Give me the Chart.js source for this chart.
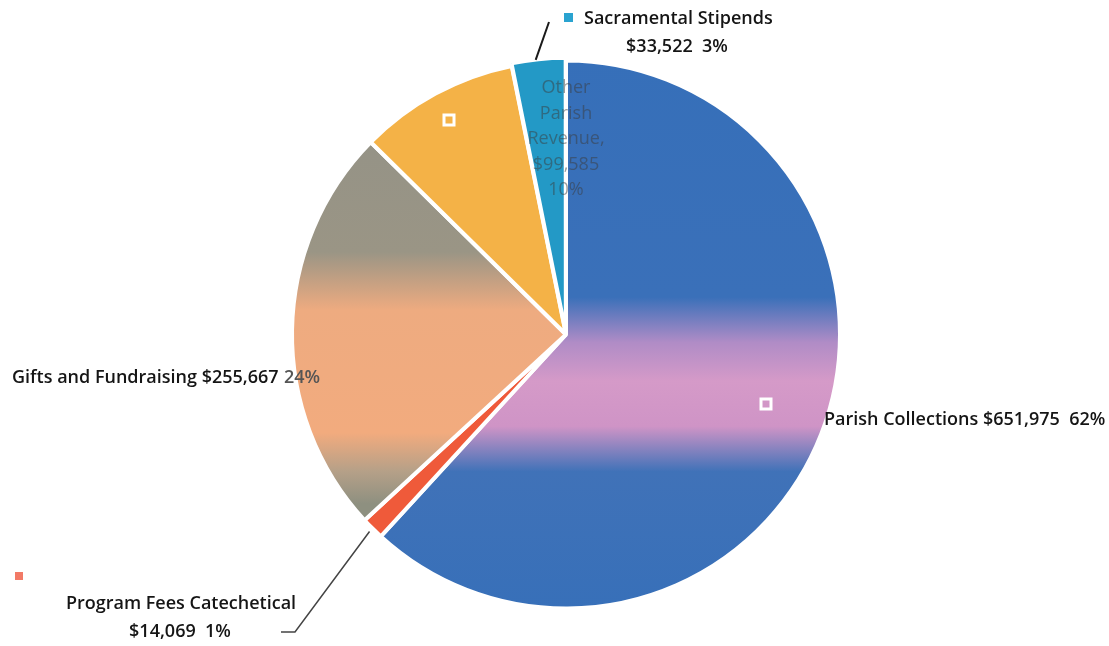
<!DOCTYPE html>
<html>
<head>
<meta charset="utf-8">
<script src="https://cdn.jsdelivr.net/npm/chart.js@4"></script>
<style>
  html, body { margin: 0; padding: 0; background: #fff; }
  #wrap { width: 1109px; height: 646px; position: relative; }
</style>
</head>
<body>
<div id="wrap"><canvas id="pie"></canvas></div>
<script>
// data
const categories = ["Parish Collections", "Program Fees Catechetical", "Gifts and Fundraising", "Other Parish Revenue", "Sacramental Stipends"];
const amounts = [651975, 14069, 255667, 99585, 33522];
const percents = ["62%", "1%", "24%", "10%", "3%"];
const amountLabels = ["$651,975", "$14,069", "$255,667", "$99,585", "$33,522"];

const FONT = '"Open Sans", sans-serif';

// scanned look: the blue and grey slices have colour bands on them
function sliceColor(c) {
  const chart = c.chart;
  const area = chart.chartArea;
  const solid = ["#356fb9", "#ef5a3a", "#a9a090", "#f4b247", "#2399c6"];
  if (!area) return solid[c.dataIndex];
  const g = chart.ctx;
  if (c.dataIndex === 0) {
    const gr = g.createLinearGradient(0, 0, 0, 646);
    gr.addColorStop(0, "#356fb9");
    gr.addColorStop(0.46, "#3a70b9");
    gr.addColorStop(0.53, "#b08cc6");
    gr.addColorStop(0.59, "#d59ac8");
    gr.addColorStop(0.66, "#cf94c6");
    gr.addColorStop(0.73, "#4072b8");
    gr.addColorStop(1, "#356fb9");
    return gr;
  }
  if (c.dataIndex === 2) {
    const gr = g.createLinearGradient(0, 0, 0, 646);
    gr.addColorStop(0, "#8f9088");
    gr.addColorStop(0.39, "#9a9585");
    gr.addColorStop(0.48, "#eeab80");
    gr.addColorStop(0.67, "#f2ab7e");
    gr.addColorStop(0.73, "#b5a088");
    gr.addColorStop(0.78, "#8e9080");
    gr.addColorStop(1, "#8e9080");
    return gr;
  }
  return solid[c.dataIndex];
}

function arcPoint(chart, i, k) {
  const a = chart.getDatasetMeta(0).data[i];
  const mid = (a.startAngle + a.endAngle) / 2;
  return { x: a.x + Math.cos(mid) * a.outerRadius * k, y: a.y + Math.sin(mid) * a.outerRadius * k };
}

const labelPlugin = {
  id: "labels",
  afterDatasetsDraw(chart) {
    const g = chart.ctx;
    g.save();
    g.textBaseline = "middle";
    g.fillStyle = "#151515";
    g.font = "600 18px " + FONT;

    // Sacramental Stipends
    g.textAlign = "left";
    g.fillText(categories[4], 584, 19);
    g.textAlign = "center";
    g.fillText(amountLabels[4] + "  " + percents[4], 677, 47);
    g.fillStyle = "#2aa3d0";
    g.fillRect(564, 13, 9, 9);
    const ps = arcPoint(chart, 4, 1.0);
    g.strokeStyle = "#1a1a1a";
    g.lineWidth = 2;
    g.beginPath();
    g.moveTo(549, 22);
    g.lineTo(ps.x - 3, ps.y - 2);
    g.stroke();

    // Other Parish Revenue (faint, inside)
    g.font = "18px " + FONT;
    g.fillStyle = "rgba(60,60,60,0.5)";
    g.textAlign = "center";
    ["Other", "Parish", "Revenue,", amountLabels[3], percents[3]].forEach((t, k) => {
      g.fillText(t, 566, 88 + k * 25.5);
    });
    g.font = "600 18px " + FONT;

    // Gifts and Fundraising
    g.textAlign = "left";
    g.fillStyle = "#151515";
    const gl = categories[2] + " " + amountLabels[2];
    g.fillText(gl, 12, 378);
    g.fillStyle = "#555";
    g.fillText(percents[2], 284, 378);

    // Parish Collections
    g.fillStyle = "#151515";
    g.fillText(categories[0] + " " + amountLabels[0] + "  " + percents[0], 824, 420);

    // Program Fees Catechetical
    g.textAlign = "center";
    g.fillText(categories[1], 181, 604);
    g.fillText(amountLabels[1] + "  " + percents[1], 180, 632);
    g.fillStyle = "#f27a66";
    g.fillRect(15, 572, 8, 8);
    const pf = arcPoint(chart, 1, 1.0);
    g.strokeStyle = "#444";
    g.lineWidth = 1.5;
    g.beginPath();
    g.moveTo(281, 632);
    g.lineTo(295, 632);
    g.lineTo(pf.x - 3, pf.y + 3);
    g.stroke();

    // hollow white markers
    g.strokeStyle = "#ffffff";
    g.lineWidth = 3;
    g.strokeRect(444, 115, 10, 10);
    g.strokeRect(761, 399, 10, 10);
    g.restore();
  }
};

new Chart(document.getElementById("pie").getContext("2d"), {
  type: "pie",
  data: {
    labels: categories,
    datasets: [{
      data: amounts,
      backgroundColor: sliceColor,
      borderColor: "#ffffff",
      borderWidth: 4,
      offset: [0, 0, 0, 0, 6]
    }]
  },
  options: {
    responsive: true,
    maintainAspectRatio: false,
    animation: false,
    layout: { padding: { left: 287, right: 264, top: 55, bottom: 32 } },
    plugins: {
      legend: { display: false },
      tooltip: { enabled: false }
    }
  },
  plugins: [labelPlugin]
});
</script>
</body>
</html>
